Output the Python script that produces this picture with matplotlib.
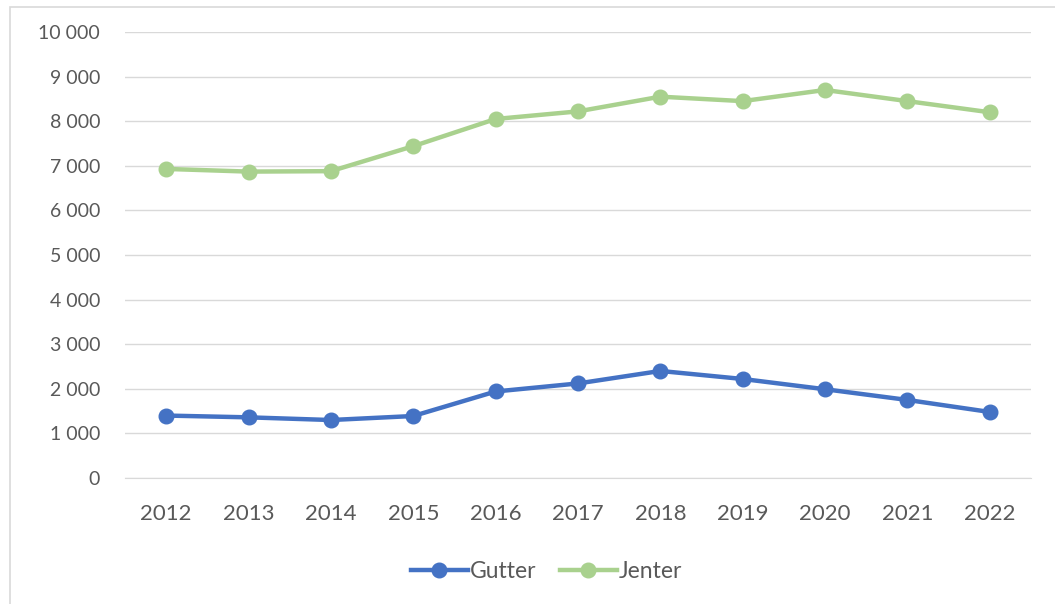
import matplotlib.pyplot as plt
from matplotlib.patches import Rectangle
from matplotlib.ticker import FuncFormatter

plt.rcParams['font.family'] = ['Lato', 'DejaVu Sans']

years = ['2012', '2013', '2014', '2015', '2016', '2017', '2018', '2019', '2020', '2021', '2022']
gutter = [1400, 1360, 1300, 1390, 1940, 2120, 2400, 2220, 1990, 1750, 1480]
jenter = [6930, 6870, 6880, 7440, 8050, 8220, 8550, 8450, 8700, 8450, 8200]

W, H = 1055, 604
fig = plt.figure(figsize=(W / 100, H / 100), dpi=100)

# chart border (partly cut off on the right and bottom)
fig.patches.append(Rectangle((10 / W, -0.05), 1.1, 1 - 7 / H + 0.05,
                             transform=fig.transFigure, fill=False,
                             edgecolor='#D9D9D9', linewidth=1.2))

ax = fig.add_axes([125 / W, 1 - 478 / H, (1031 - 125) / W, (478 - 32) / H])

x = range(len(years))
ax.plot(x, gutter, color='#4472C4', lw=3.2, marker='o', ms=10.5, label='Gutter')
ax.plot(x, jenter, color='#A9D18E', lw=3.2, marker='o', ms=10.5, label='Jenter')

ax.set_xlim(-0.5, len(years) - 0.5)
ax.set_ylim(0, 10000)
ax.set_yticks(range(0, 10001, 1000))
ax.yaxis.set_major_formatter(FuncFormatter(lambda v, p: f"{int(v):,}".replace(',', ' ')))
ax.set_xticks(list(x))
ax.set_xticklabels(years)

ax.grid(axis='y', color='#D9D9D9', lw=1)
ax.set_axisbelow(True)
for s in ['top', 'right', 'left']:
    ax.spines[s].set_visible(False)
ax.spines['bottom'].set_color('#D9D9D9')
ax.tick_params(length=0, colors='#595959')
ax.tick_params(axis='y', labelsize=14, pad=18)
ax.tick_params(axis='x', labelsize=16, pad=19)

leg = fig.legend(loc='center', bbox_to_anchor=(0.518, 1 - 572 / H), ncol=2,
                 frameon=False, fontsize=16.5, handlelength=2.5,
                 handletextpad=0.1, columnspacing=1.0)
for t in leg.get_texts():
    t.set_color('#595959')

fig.savefig('out.png', dpi=100)
